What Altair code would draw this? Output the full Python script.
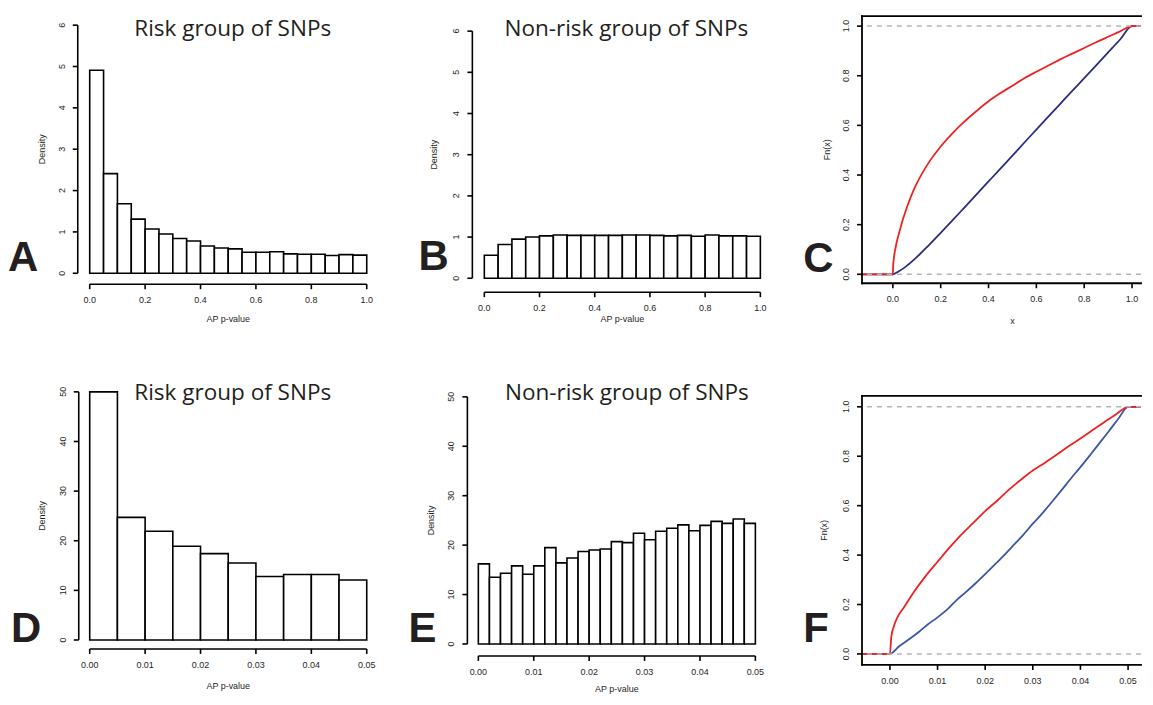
import altair as alt
import pandas as pd

# ---------------- data ----------------
# Histogram densities (equal-width bins)
A_bin_width = 0.05
A_density = [4.91, 2.41, 1.68, 1.31, 1.07, 0.95, 0.84, 0.78, 0.66, 0.61,
             0.59, 0.51, 0.51, 0.52, 0.47, 0.46, 0.46, 0.43, 0.45, 0.44]
B_bin_width = 0.05
B_density = [0.56, 0.82, 0.95, 1.00, 1.03, 1.05, 1.04, 1.04, 1.04, 1.04,
             1.05, 1.05, 1.04, 1.03, 1.04, 1.02, 1.05, 1.03, 1.03, 1.02]
D_bin_width = 0.005
D_density = [50.0, 24.7, 21.9, 18.9, 17.4, 15.5, 12.8, 13.2, 13.2, 12.1]
E_bin_width = 0.002
E_density = [16.2, 13.5, 14.3, 15.8, 14.1, 15.8, 19.5, 16.4, 17.4, 18.7,
             19.0, 19.2, 20.7, 20.5, 22.4, 21.1, 22.8, 23.4, 24.1, 22.9,
             24.0, 24.8, 24.4, 25.3, 24.4]

# Empirical CDFs (panel C: full range, panel F: p < 0.05)
C_red_x = [-1, 0, 0.001, 0.003, 0.006, 0.01, 0.02, 0.03, 0.04, 0.05, 0.075, 0.1,
           0.15, 0.2, 0.25, 0.3, 0.35, 0.4, 0.45, 0.5, 0.55, 0.6, 0.65, 0.7,
           0.75, 0.8, 0.85, 0.9, 0.95, 1.0, 2]
C_red_y = [0, 0, 0.03, 0.055, 0.078, 0.1, 0.145, 0.18, 0.215, 0.245, 0.312, 0.366,
           0.45, 0.515, 0.569, 0.616, 0.658, 0.697, 0.73, 0.76, 0.79, 0.816,
           0.841, 0.866, 0.889, 0.912, 0.935, 0.957, 0.979, 1.0, 1.0]
C_blue_x = [-1, 0, 0.025, 0.05, 0.1, 0.15, 0.2, 0.25, 0.3, 0.35, 0.4, 0.45, 0.5,
            0.55, 0.6, 0.65, 0.7, 0.75, 0.8, 0.85, 0.9, 0.95, 1.0, 2]
C_blue_y = [0, 0, 0.012, 0.028, 0.069, 0.117, 0.167, 0.218, 0.27, 0.322, 0.374,
            0.426, 0.478, 0.531, 0.583, 0.635, 0.687, 0.739, 0.79, 0.842, 0.894,
            0.946, 1.0, 1.0]
F_red_x = [-1, 0, 0.0003, 0.0008, 0.0015, 0.003, 0.005, 0.0075, 0.01, 0.0125,
           0.015, 0.0175, 0.02, 0.0225, 0.025, 0.0275, 0.03, 0.0325, 0.035,
           0.0375, 0.04, 0.0425, 0.045, 0.0475, 0.05, 1]
F_red_y = [0, 0, 0.07, 0.11, 0.145, 0.19, 0.25, 0.315, 0.373, 0.43, 0.483, 0.53,
           0.578, 0.62, 0.665, 0.705, 0.742, 0.773, 0.806, 0.84, 0.872, 0.905,
           0.938, 0.97, 1.0, 1.0]
F_blue_x = [-1, 0, 0.002, 0.004, 0.006, 0.008, 0.01, 0.012, 0.014, 0.016, 0.018,
            0.02, 0.022, 0.024, 0.026, 0.028, 0.03, 0.032, 0.034, 0.036, 0.038,
            0.04, 0.042, 0.044, 0.046, 0.048, 0.05, 1]
F_blue_y = [0, 0, 0.032, 0.059, 0.088, 0.12, 0.148, 0.179, 0.218, 0.251, 0.286,
            0.323, 0.361, 0.4, 0.441, 0.482, 0.527, 0.569, 0.615, 0.662, 0.71,
            0.756, 0.804, 0.853, 0.902, 0.953, 1.0, 1.0]

ref_levels = [0, 1]
hist_ticks_1 = [0, 0.2, 0.4, 0.6, 0.8, 1.0]
hist_labels_1 = ["0.0", "0.2", "0.4", "0.6", "0.8", "1.0"]
hist_ticks_2 = [0, 0.01, 0.02, 0.03, 0.04, 0.05]
hist_labels_2 = ["0.00", "0.01", "0.02", "0.03", "0.04", "0.05"]
dens_ticks_1 = [0, 1, 2, 3, 4, 5, 6]
dens_labels_1 = ["0", "1", "2", "3", "4", "5", "6"]
dens_ticks_2 = [0, 10, 20, 30, 40, 50]
dens_labels_2 = ["0", "10", "20", "30", "40", "50"]
ecdf_yticks = [0, 0.2, 0.4, 0.6, 0.8, 1.0]
ecdf_ylabels = ["0.0", "0.2", "0.4", "0.6", "0.8", "1.0"]

titles = {"A": "Risk group of SNPs", "B": "Non-risk group of SNPs",
          "D": "Risk group of SNPs", "E": "Non-risk group of SNPs"}

# ---------------- styling ----------------
AX_FONT = "Liberation Sans"
TITLE_FONT = "Open Sans"
INK = "#1e1e1e"
RED = "#ee2222"
BLUE_C = "#2b2e80"
BLUE_F = "#3a55aa"
GRAY = "#b5b5b5"
LW = 1.6
TICK = 5

COLW = [391, 396, 280]
ROWH = [268, 270]


def txt(text, x, y, angle=0, align="center", baseline="alphabetic"):
    return alt.Chart(pd.DataFrame({"t": [text]})).mark_text(
        font=AX_FONT, fontSize=9, color=INK, angle=angle, align=align,
        baseline=baseline).encode(text="t:N", x=alt.value(x), y=alt.value(y))


def axis_parts(xs, ys, xinv, yinv, xticks, xlabels, yticks, ylabels, X_y, Y_x,
               xdom=None, ydom=None, xtitle=None, xtx=0, xty=0,
               ytitle=None, ytx=0, yty=0):
    """R-style axes. Lines are drawn as line paths in data space."""
    segs = []
    if ydom is not None:
        segs.append((xinv(X_y), ydom[0], xinv(X_y), ydom[1]))
    if xdom is not None:
        segs.append((xdom[0], yinv(Y_x), xdom[1], yinv(Y_x)))
    for v in yticks:
        segs.append((xinv(X_y - TICK), v, xinv(X_y), v))
    for v in xticks:
        segs.append((v, yinv(Y_x), v, yinv(Y_x + TICK)))
    rows = []
    for i, (xa, ya, xb, yb) in enumerate(segs):
        rows.append({"seg": i, "o": 0, "px": xa, "py": ya})
        rows.append({"seg": i, "o": 1, "px": xb, "py": yb})
    lines = alt.Chart(pd.DataFrame(rows)).mark_line(
        color="black", strokeWidth=LW, strokeCap="butt").encode(
        x=alt.X("px:Q", scale=xs, axis=None), y=alt.Y("py:Q", scale=ys, axis=None),
        detail="seg:N", order="o:Q")
    yt = pd.DataFrame({"v": yticks, "lab": ylabels})
    xt = pd.DataFrame({"v": xticks, "lab": xlabels})
    texts = [
        alt.Chart(yt).mark_text(
            font=AX_FONT, fontSize=9, color=INK, angle=270, align="center",
            baseline="alphabetic").encode(
            y=alt.Y("v:Q", scale=ys, axis=None), x=alt.value(X_y - TICK - 8), text="lab:N"),
        alt.Chart(xt).mark_text(
            font=AX_FONT, fontSize=9, color=INK, align="center", baseline="top").encode(
            x=alt.X("v:Q", scale=xs, axis=None), y=alt.value(Y_x + TICK + 7), text="lab:N"),
    ]
    if xtitle:
        texts.append(txt(xtitle, xtx, Y_x + xty))
    if ytitle:
        texts.append(txt(ytitle, X_y + ytx, yty, angle=270))
    return texts, [lines]


def annotations(letter, lx, ly, title=None, tx=0, ty=0):
    layers = []
    if title:
        layers.append(
            alt.Chart(pd.DataFrame({"t": [title]})).mark_text(
                font=TITLE_FONT, fontSize=22.6, align="center",
                baseline="alphabetic", color="#231f20"
            ).encode(text="t:N", x=alt.value(tx), y=alt.value(ty))
        )
    layers.append(
        alt.Chart(pd.DataFrame({"t": [letter]})).mark_text(
            font=AX_FONT, fontSize=42, fontWeight="bold", align="left",
            baseline="alphabetic", color="#231f20"
        ).encode(text="t:N", x=alt.value(lx), y=alt.value(ly))
    )
    return layers


def inverse(dom, rng):
    return lambda p: dom[0] + (p - rng[0]) * (dom[1] - dom[0]) / (rng[1] - rng[0])


def hist_panel(dens, bw, xdom, xrng, ydom, yrng, xticks, xlabels, yticks, ylabels,
               yoff, xoff, ytx, yty, xtx, xty, w, h, letter, lx, ly, tx, ty):
    starts = [i * bw for i in range(len(dens))]
    ends = [(i + 1) * bw for i in range(len(dens))]
    df = pd.DataFrame({"start": starts, "end": ends, "density": dens})
    xs = alt.Scale(domain=xdom, range=xrng, nice=False, zero=False)
    ys = alt.Scale(domain=ydom, range=yrng, nice=False, zero=False)
    bars = alt.Chart(df).mark_rect(fill="white", stroke="black", strokeWidth=LW).encode(
        x=alt.X("start:Q", axis=None, scale=xs),
        x2="end:Q",
        y=alt.Y("density:Q", stack=None, axis=None, scale=ys),
        y2=alt.datum(0),
    )
    texts, lines = axis_parts(xs, ys, inverse(xdom, xrng), inverse(ydom, yrng),
                              xticks, xlabels, yticks, ylabels, -yoff, h + xoff,
                              xdom, ydom, "AP p-value", xtx, xty, "Density", ytx, yty)
    return alt.layer(bars, *lines, *texts,
                     *annotations(letter, lx, ly, titles[letter], tx, ty)).properties(
        width=w, height=h)


def ecdf_panel(rx, ry, bx, by, blue, xdom, ydom, xticks, xlabels, ytx, yty, xtitle,
               xtx, xty, w, h, letter, lx, ly):
    xrng, yrng = [0, w], [h, 0]
    xs = alt.Scale(domain=xdom, range=xrng, nice=False, zero=False)
    ys = alt.Scale(domain=ydom, range=yrng, nice=False, zero=False)
    df = pd.concat([
        pd.DataFrame({"x": rx, "y": ry, "grp": "risk", "o": range(len(rx))}),
        pd.DataFrame({"x": bx, "y": by, "grp": "nonrisk", "o": range(len(bx))}),
    ])
    red = alt.Chart(df[df.grp == "risk"]).mark_line(
        color=RED, strokeWidth=1.8, clip=True, interpolate="monotone").encode(
        x=alt.X("x:Q", scale=xs, axis=None), y=alt.Y("y:Q", scale=ys, axis=None),
        order="o:Q")
    bl = alt.Chart(df[df.grp == "nonrisk"]).mark_line(
        color=blue, strokeWidth=1.8, clip=True, interpolate="monotone").encode(
        x=alt.X("x:Q", scale=xs, axis=None), y=alt.Y("y:Q", scale=ys, axis=None),
        order="o:Q")
    rules = alt.Chart(pd.DataFrame({"lvl": ref_levels})).mark_rule(
        color=GRAY, strokeWidth=1.5, strokeDash=[5, 5]).encode(
        y=alt.Y("lvl:Q", scale=ys, axis=None))
    # box: left, top and bottom sides as line paths at the domain edges
    fr = pd.DataFrame({
        "seg": [0, 0, 1, 1, 2, 2], "o": [0, 1, 0, 1, 0, 1],
        "px": [xdom[0], xdom[0], xdom[0], xdom[1], xdom[0], xdom[1]],
        "py": [ydom[0], ydom[1], ydom[1], ydom[1], ydom[0], ydom[0]],
    })
    frame = alt.Chart(fr).mark_line(color="black", strokeWidth=1.8, strokeCap="square").encode(
        x=alt.X("px:Q", scale=xs, axis=None), y=alt.Y("py:Q", scale=ys, axis=None),
        detail="seg:N", order="o:Q")
    texts, lines = axis_parts(xs, ys, inverse(xdom, xrng), inverse(ydom, yrng),
                              xticks, xlabels, ecdf_yticks, ecdf_ylabels, 0, h,
                              xtitle=xtitle, xtx=xtx, xty=xty, ytitle="Fn(x)",
                              ytx=ytx, yty=yty)
    return alt.layer(bl, red, rules, frame, *lines, *texts,
                     *annotations(letter, lx, ly)).properties(width=w, height=h)


panel_A = hist_panel(A_density, A_bin_width, [0, 1], [12, 290], [0, 6], [258, 9],
                     hist_ticks_1, hist_labels_1, dens_ticks_1, dens_labels_1,
                     0, 1, -33, 133.5, 151, 38,
                     COLW[0], ROWH[0], "A", -70, 256, 155.5, 20)
panel_B = hist_panel(B_density, B_bin_width, [0, 1], [17, 294], [0, 6], [263, 15],
                     hist_ticks_1, hist_labels_1, dens_ticks_1, dens_labels_1,
                     -5, 9, -35.5, 139, 155.5, 30,
                     COLW[1], ROWH[0], "B", -49, 255, 159.5, 20)
panel_C = ecdf_panel(C_red_x, C_red_y, C_blue_x, C_blue_y, BLUE_C,
                     [-0.129, 1.0375], [-0.036, 1.04], hist_ticks_1, hist_labels_1,
                     -32, 134, "x", 151, 41, COLW[2], ROWH[0], "C", -59, 257)
panel_D = hist_panel(D_density, D_bin_width, [0, 0.05], [12, 290], [0, 50], [245, -4],
                     hist_ticks_2, hist_labels_2, dens_ticks_2, dens_labels_2,
                     -1, -16, -34, 120.5, 151, 40,
                     COLW[0], ROWH[1], "D", -67, 247, 155.5, 4)
panel_E = hist_panel(E_density, E_bin_width, [0, 0.05], [11, 289], [0, 50], [249, 1],
                     hist_ticks_2, hist_labels_2, dens_ticks_2, dens_labels_2,
                     0, -9, -34, 125, 150, 36,
                     COLW[1], ROWH[1], "E", -59, 247, 160, 4)
panel_F = ecdf_panel(F_red_x, F_red_y, F_blue_x, F_blue_y, BLUE_F,
                     [-0.00586, 0.05272], [-0.0444, 1.0444], hist_ticks_2, hist_labels_2,
                     -35, 135, None, 0, 0, COLW[2], ROWH[1], "F", -59, 247)

chart = alt.concat(panel_A, panel_B, panel_C, panel_D, panel_E, panel_F,
                   columns=3, spacing={"row": 113, "column": 0}, bounds="flush"
                   ).properties(
    padding={"left": 0, "top": 3, "right": 0, "bottom": 0},
    background="white",
).configure_view(stroke=None)

chart.save("out.html", embed_options={"renderer": "svg", "actions": False})
